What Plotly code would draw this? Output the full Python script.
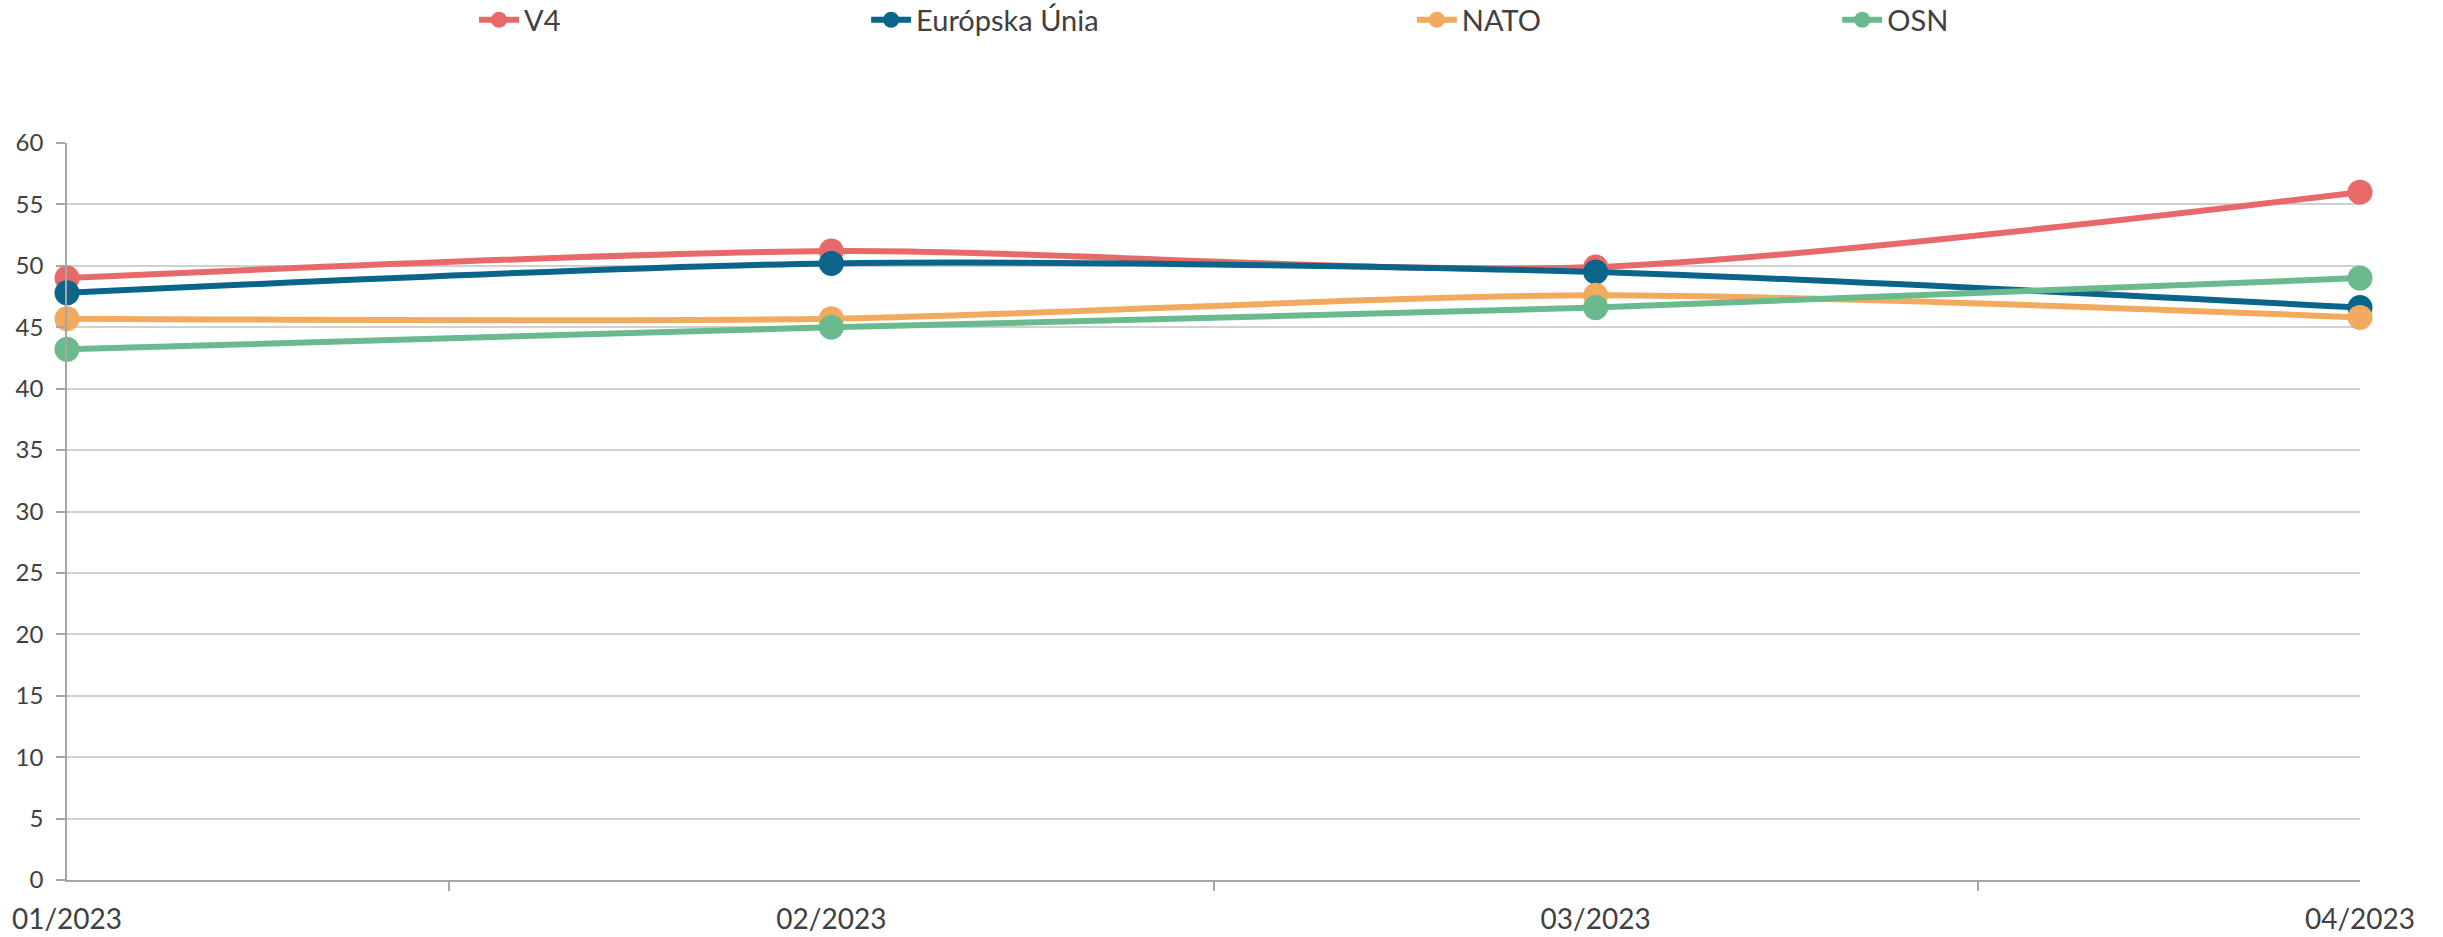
import plotly.graph_objects as go

months = ["01/2023", "02/2023", "03/2023", "04/2023"]
v4 = [49.0, 51.2, 49.9, 56.0]
eu = [47.8, 50.2, 49.5, 46.6]
nato = [45.7, 45.7, 47.6, 45.8]
osn = [43.2, 45.0, 46.6, 49.0]

series = [
    ("V4", v4, "#E8696A"),
    ("Európska Únia", eu, "#0B6489"),
    ("NATO", nato, "#F2AB5E"),
    ("OSN", osn, "#6BBA8E"),
]
legend_x = [0.1775, 0.3485, 0.5865, 0.772]

xi = list(range(len(months)))
FONT = "Lato"
TXT = "#404040"

fig = go.Figure()
for i, (name, vals, col) in enumerate(series):
    lg = "legend" if i == 0 else f"legend{i+1}"
    fig.add_trace(go.Scatter(
        x=xi, y=vals, name=name, mode="lines+markers",
        line=dict(color=col, width=6, shape="spline", smoothing=0.8),
        marker=dict(color=col, size=25),
        cliponaxis=False,
        legend=lg,
    ))

layout_legends = {}
for i, lx in enumerate(legend_x):
    key = "legend" if i == 0 else f"legend{i+1}"
    layout_legends[key] = dict(
        x=lx, y=1.167, xanchor="left", yanchor="middle",
        orientation="h", font=dict(family=FONT, size=29, color=TXT),
        bgcolor="rgba(0,0,0,0)", itemwidth=40,
    )

fig.update_layout(
    width=2443, height=937,
    margin=dict(l=67, r=83, t=143, b=57, autoexpand=False),
    paper_bgcolor="white", plot_bgcolor="white",
    font=dict(family=FONT, size=27, color=TXT),
    showlegend=True,
    **layout_legends,
)

fig.update_xaxes(
    range=[0, len(months) - 1],
    tickmode="array", tickvals=xi, ticktext=months,
    ticks="", showgrid=False, automargin=False,
    showline=True, linecolor="#A6A6A6", linewidth=1.5,
    tickfont=dict(family=FONT, size=28, color=TXT),
    ticklabelstandoff=14,
    minor=dict(tick0=0.5, dtick=1, ticks="outside", ticklen=9,
               tickcolor="#A6A6A6", tickwidth=1.5, showgrid=False),
    zeroline=False,
)
fig.update_yaxes(
    range=[0, 60], dtick=5, automargin=False,
    showgrid=True, gridcolor="#D0D0D0", gridwidth=1.5,
    showline=True, linecolor="#A6A6A6", linewidth=1.5,
    ticks="outside", ticklen=9, tickcolor="#A6A6A6", tickwidth=1.5,
    tickfont=dict(family=FONT, size=24, color=TXT),
    ticklabelstandoff=8,
    zeroline=False,
)

fig.write_html(
    "out.html",
    config={"displayModeBar": False},
    post_script="document.body.style.margin='0';document.body.style.overflow='hidden';",
)
